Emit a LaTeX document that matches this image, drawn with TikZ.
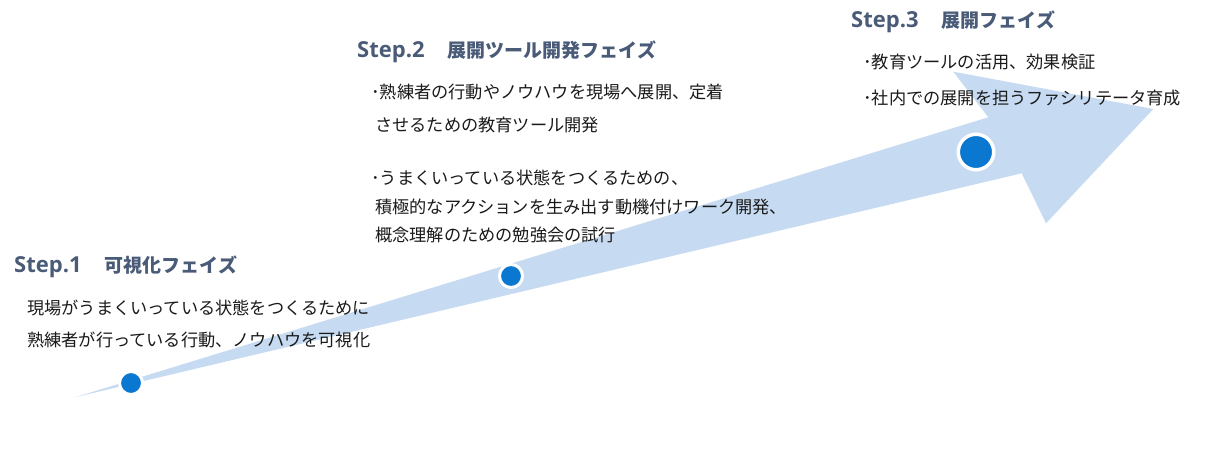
\documentclass[tikz,border=0pt]{standalone}
\usepackage{fontspec}
\setmainfont{Noto Sans CJK JP}
\newfontfamily\jp{Noto Sans CJK JP}
\newfontfamily\stepfont{Open Sans}
\definecolor{arrowblue}{HTML}{C6DBF2}
\definecolor{dotblue}{HTML}{0A78D0}
\definecolor{headgray}{HTML}{4A5B78}
\definecolor{bodytext}{HTML}{1A1A1A}
\newcommand{\stephead}[2]{\makebox[90.5pt][l]{\stepfont\bfseries\fontsize{22}{24}\selectfont #1}{\jp\bfseries\fontsize{19}{22}\selectfont #2}}
\tikzset{
  heading/.style={anchor=west, inner sep=0pt, text=headgray},
  bodyline/.style={anchor=west, inner sep=0pt, text=bodytext, font=\jp\fontsize{17.2}{20}\selectfont},
  smalldot/.style={circle, fill=dotblue, draw=white, line width=3pt, minimum size=23pt, inner sep=0pt},
  bigdot/.style={circle, fill=dotblue, draw=white, line width=3.5pt, minimum size=35.5pt, inner sep=0pt}
}
\begin{document}
\begin{tikzpicture}[x=1pt,y=-1pt]
\useasboundingbox[fill=white] (0,0) rectangle (1217,461);
% arrow
\fill[arrowblue] (76,397) -- (1021.7,173.3) -- (1046,223.3) -- (1153.3,109) -- (953.3,71.7) -- (988.3,117.3) -- cycle;
% dots
\node[smalldot] (d1) at (131,383) {};
\node[smalldot] (d2) at (511,276) {};
\node[bigdot] (d3) at (976,152) {};
% step 1
\node[heading] (h1) at (14,267) {\stephead{Step.1}{可視化フェイズ}};
\node[bodyline] (b1a) at (27,308) {現場がうまくいっている状態をつくるために};
\node[bodyline] (b1b) at (27,340) {熟練者が行っている行動、ノウハウを可視化};
% step 2
\node[heading] (h2) at (357,52) {\stephead{Step.2}{展開ツール開発フェイズ}};
\node[bodyline] (b2a) at (371,92) {･熟練者の行動やノウハウを現場へ展開、定着};
\node[bodyline] (b2b) at (375,125) {させるための教育ツール開発};
\node[bodyline] (b2c) at (371,178) {･うまくいっている状態をつくるための、};
\node[bodyline] (b2d) at (375,207) {積極的なアクションを生み出す動機付けワーク開発、};
\node[bodyline] (b2e) at (375,235) {概念理解のための勉強会の試行};
% step 3
\node[heading] (h3) at (851,22) {\stephead{Step.3}{展開フェイズ}};
\node[bodyline] (b3a) at (863,62) {･教育ツールの活用、効果検証};
\node[bodyline] (b3b) at (863,98) {･社内での展開を担うファシリテータ育成};
\end{tikzpicture}
\end{document}
